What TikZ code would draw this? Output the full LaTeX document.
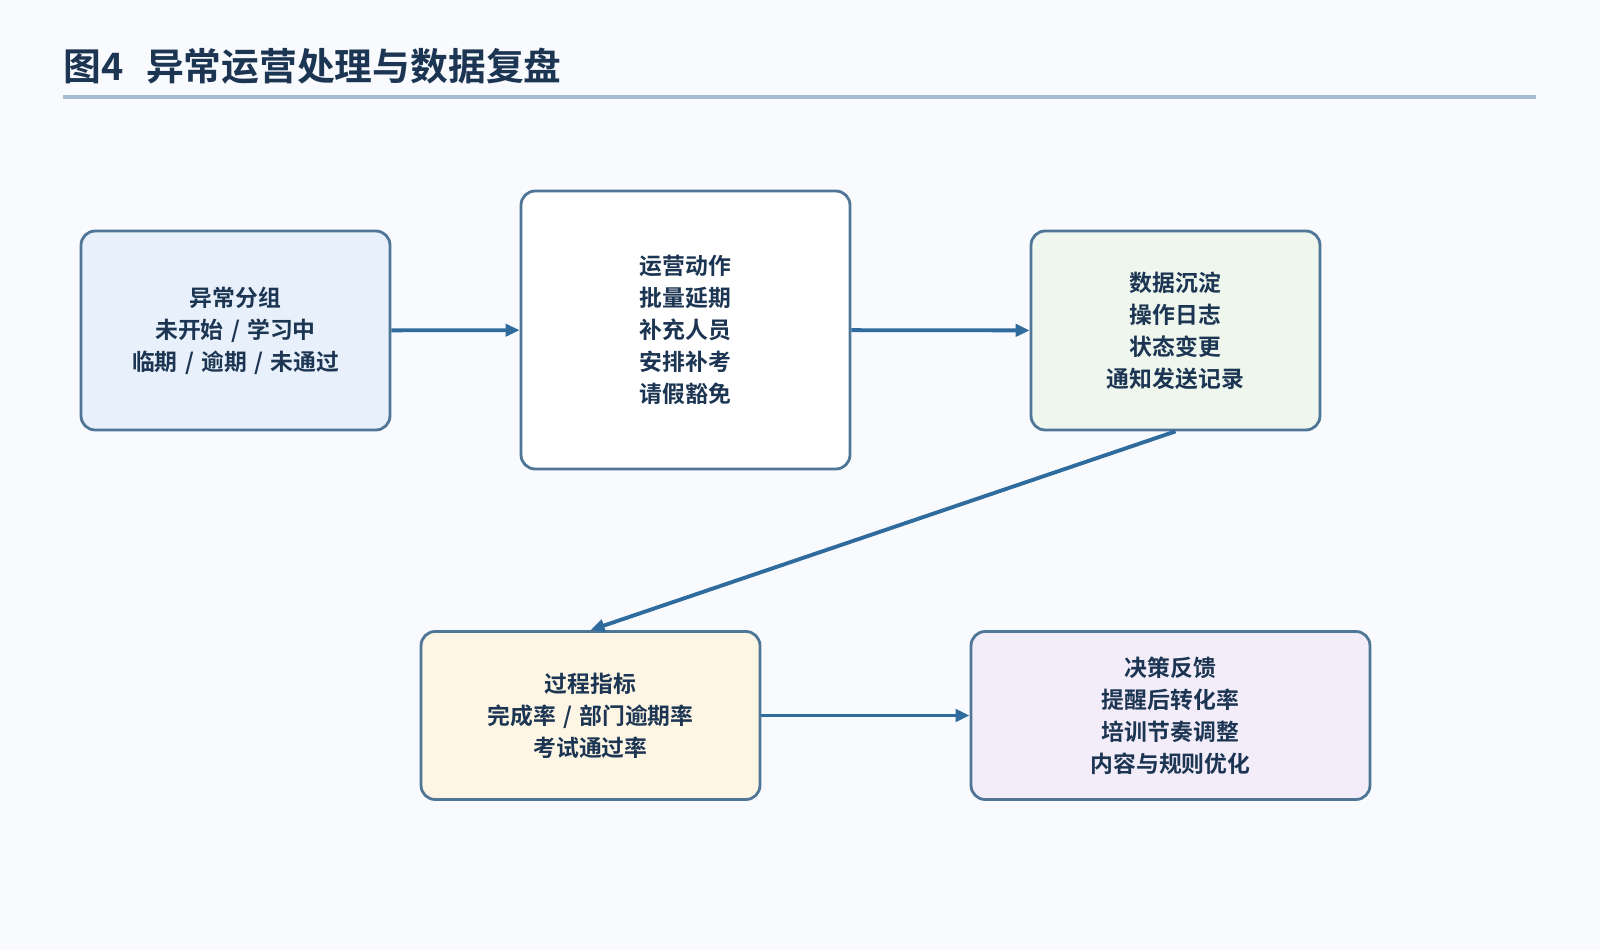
\documentclass[tikz,border=0pt]{standalone}
\usepackage{fontspec}
\setmainfont{Noto Sans CJK SC}[BoldFont={* Bold}]
\usepackage{xcolor}
\usepackage{tikz}
\usetikzlibrary{arrows.meta,positioning}
\definecolor{PageBg}{HTML}{F8FAFD}
\definecolor{InkNavy}{HTML}{1C3552}
\definecolor{EdgeSteel}{HTML}{4F7697}
\definecolor{FlowBlue}{HTML}{2F6B9C}
\definecolor{RuleBlue}{HTML}{A6BED4}
\definecolor{FillBlue}{HTML}{E8F1FB}
\definecolor{FillGreen}{HTML}{EEF6EE}
\definecolor{FillYellow}{HTML}{FEF6E5}
\definecolor{FillPurple}{HTML}{F3EDFA}
\newcommand{\slsep}{\hspace{0.32em}/\hspace{0.32em}}
\tikzset{
  stagebox/.style={
    draw=EdgeSteel,
    line width=1.6pt,
    rounded corners=8pt,
    align=center,
    text=InkNavy,
    font=\fontsize{13}{18.2}\selectfont\bfseries,
    inner sep=0pt
  },
  flow/.style={-{Triangle[length=8pt,width=7pt]}, line width=2.2pt, draw=FlowBlue}
}
\begin{document}
\begin{tikzpicture}[
  x=0.02cm, y=-0.02cm,
  titletext/.style={anchor=west, text=InkNavy, font=\fontsize{21.5}{24}\selectfont\bfseries, inner sep=0pt}
]
\useasboundingbox[fill=PageBg] (0,0) rectangle (1600,950);
\node[titletext] (title) at (63,66) {图4\hspace{0.6em}异常运营处理与数据复盘};
\draw[RuleBlue, line width=2.4pt] (63,97) -- (1536,97);

\node[stagebox, fill=FillBlue,   minimum width=6.18cm, minimum height=3.98cm] (grouping) at (235.5,330.5) {异常分组\\未开始\slsep 学习中\\临期\slsep 逾期\slsep 未通过};
\node[stagebox, fill=white,      minimum width=6.58cm, minimum height=5.56cm] (actions) at (685.5,330) {运营动作\\批量延期\\补充人员\\安排补考\\请假豁免};
\node[stagebox, fill=FillGreen,  minimum width=5.78cm, minimum height=3.98cm] (records) at (1175.5,330.5) {数据沉淀\\操作日志\\状态变更\\通知发送记录};
\node[stagebox, fill=FillYellow, minimum width=6.78cm, minimum height=3.36cm] (metrics) at (590.5,715.5) {过程指标\\完成率\slsep 部门逾期率\\考试通过率};
\node[stagebox, fill=FillPurple, minimum width=7.98cm, minimum height=3.36cm] (feedback) at (1170.5,715.5) {决策反馈\\提醒后转化率\\培训节奏调整\\内容与规则优化};

% grouping -> actions
\draw[flow] (grouping) -- (actions);
% actions -> records
\draw[flow] (actions) -- (records);
% records -> metrics
\draw[flow] (records.south) -- (metrics.north);
% metrics -> feedback
\draw[flow] (metrics) -- (feedback);
\end{tikzpicture}
\end{document}
